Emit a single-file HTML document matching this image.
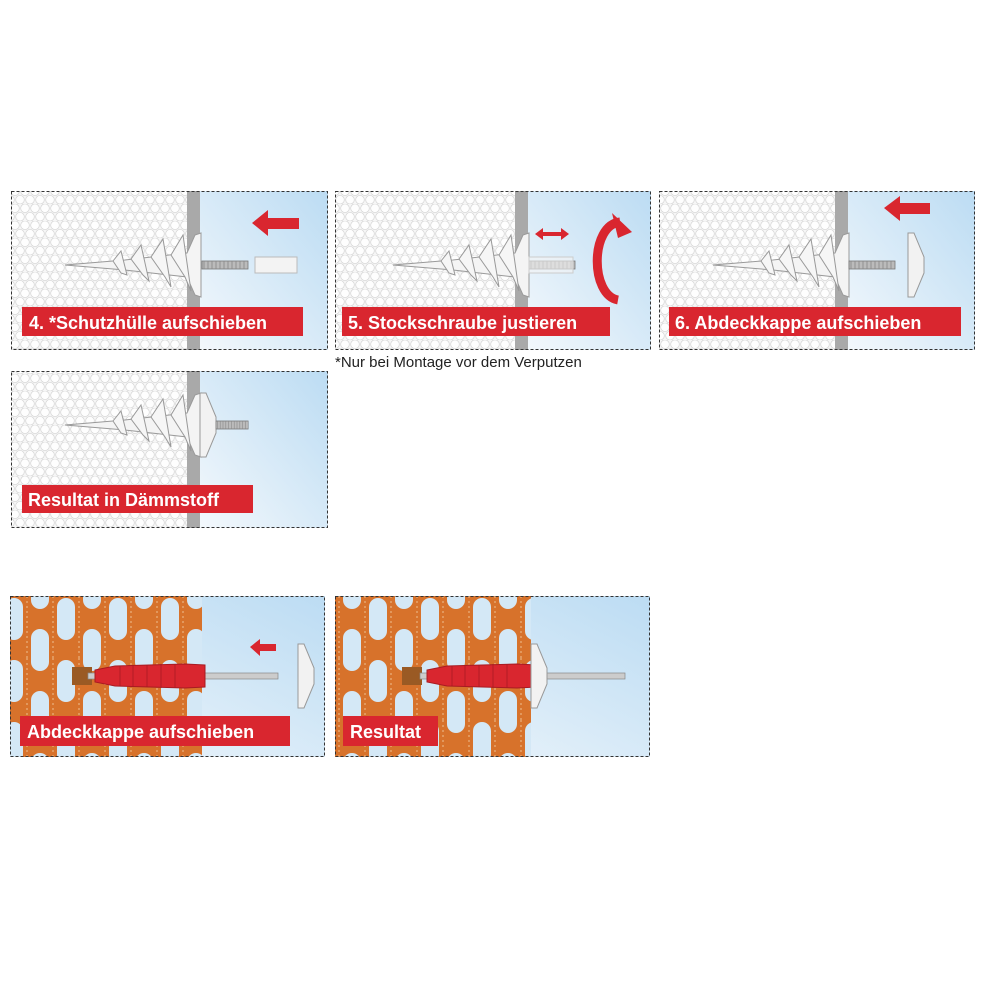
<!DOCTYPE html>
<html><head><meta charset="utf-8"><style>
html,body{margin:0;padding:0;background:#fff;}
svg{display:block}
text{font-family:"Liberation Sans",sans-serif;font-weight:bold;}
</style></head><body>
<svg width="1000" height="1000" viewBox="0 0 1000 1000" xmlns="http://www.w3.org/2000/svg">
<defs>
<pattern id="foam" width="10" height="17" patternUnits="userSpaceOnUse">
<rect width="10" height="17" fill="#f6f6f6"/>
<circle cx="5" cy="4.25" r="4.3" fill="#fefefe" stroke="#d4d4d4" stroke-width="0.7"/>
<circle cx="0" cy="12.75" r="4.3" fill="#fefefe" stroke="#d4d4d4" stroke-width="0.7"/>
<circle cx="10" cy="12.75" r="4.3" fill="#fefefe" stroke="#d4d4d4" stroke-width="0.7"/>
</pattern>
<linearGradient id="sky" x1="1" y1="0" x2="0" y2="1">
<stop offset="0" stop-color="#bcdcf3"/><stop offset="1" stop-color="#f3f8fc"/>
</linearGradient>
<pattern id="brick" x="0" y="596" width="52" height="62" patternUnits="userSpaceOnUse">
<rect width="52" height="62" fill="#d7722b"/>
<rect x="5" y="2" width="18" height="42" rx="9" fill="#d4e8f6"/>
<rect x="31" y="33" width="18" height="42" rx="9" fill="#d4e8f6"/>
<rect x="31" y="-29" width="18" height="42" rx="9" fill="#d4e8f6"/>
<line x1="27" y1="0" x2="27" y2="62" stroke="#f3d0a8" stroke-width="0.8" stroke-dasharray="2,3"/>
<line x1="1" y1="0" x2="1" y2="62" stroke="#f3d0a8" stroke-width="0.8" stroke-dasharray="2,3"/>
</pattern>
<g id="screwF">
<path d="M-130,0 L-70,-5 L-8,-12 L0,-30 L6,-32 L6,32 L0,30 L-8,12 L-70,5 Z" fill="#f4f4f4" stroke="#9a9a9a" stroke-width="1"/>
<g fill="#f6f6f6" stroke="#999" stroke-width="1">
<path d="M-82,-4 L-74,-14 L-68,10 L-74,8 Z"/>
<path d="M-64,-6 L-54,-20 L-46,16 L-52,10 Z"/>
<path d="M-44,-8 L-32,-26 L-24,22 L-30,12 Z"/>
<path d="M-24,-10 L-12,-30 L-4,26 L-10,12 Z"/>
</g>
</g>
<g id="rod">
<rect x="0" y="-4" width="46" height="8" fill="#bbb" stroke="#777" stroke-width="0.8"/>
<path d="M2,-4 v8 M6,-4 v8 M10,-4 v8 M14,-4 v8 M18,-4 v8 M22,-4 v8 M26,-4 v8 M30,-4 v8 M34,-4 v8 M38,-4 v8 M42,-4 v8" stroke="#888" stroke-width="0.8"/>
</g>
<g id="cap">
<path d="M0,-32 L6,-32 L16,-8 L16,8 L6,32 L0,32 Z" fill="#f2f2f2" stroke="#999"/>
</g>
<g id="dowel">
<path d="M0,-6 L20,-10 L90,-12 L110,-11 L110,11 L90,12 L20,10 L0,6 Z" fill="#d9262f" stroke="#a81b22"/>
<path d="M25,-10 v20 M38,-11 v22 M52,-11 v22 M66,-12 v24 M80,-12 v24" stroke="#a81b22" stroke-width="0.8"/>
</g>
</defs>

<!-- Panel 1 -->
<rect x="11" y="191" width="177" height="159" fill="url(#foam)"/>
<rect x="200" y="191" width="128" height="159" fill="url(#sky)"/>
<rect x="187" y="191" width="13" height="159" fill="#a9a9a9"/>
<use href="#screwF" x="195" y="265"/>
<g transform="translate(202,265)"><use href="#rod"/></g>
<rect x="255" y="257" width="42" height="16" fill="#f3f3f3" stroke="#bbb"/>
<path d="M252,223 L268,210 L268,218 L299,218 L299,229 L268,229 L268,236 Z" fill="#d9262f"/>
<rect x="22" y="307" width="281" height="29" fill="#d9262f"/>
<text x="29" y="329" font-size="18" fill="#fff">4. *Schutzhülle aufschieben</text>
<rect x="11.5" y="191.5" width="316" height="158" fill="none" stroke="#333" stroke-dasharray="3,2"/>

<!-- Panel 2 -->
<rect x="335" y="191" width="180" height="159" fill="url(#foam)"/>
<rect x="528" y="191" width="123" height="159" fill="url(#sky)"/>
<rect x="515" y="191" width="13" height="159" fill="#a9a9a9"/>
<use href="#screwF" x="523" y="265"/>
<g transform="translate(529,265)"><use href="#rod"/></g>
<rect x="529" y="257" width="44" height="16" fill="#f3f3f3" fill-opacity="0.6" stroke="#ccc"/>
<path d="M535,234 l8,-6 v4 h18 v-4 l8,6 l-8,6 v-4 h-18 v4 z" fill="#d9262f"/>
<path d="M620,222 C590,225 590,295 618,300" fill="none" stroke="#d9262f" stroke-width="9"/>
<path d="M612,213 L632,232 L618,238 Z" fill="#d9262f"/>
<rect x="342" y="307" width="268" height="29" fill="#d9262f"/>
<text x="348" y="329" font-size="18" fill="#fff">5. Stockschraube justieren</text>
<rect x="335.5" y="191.5" width="315" height="158" fill="none" stroke="#333" stroke-dasharray="3,2"/>
<text x="335" y="367" font-size="15" style="font-weight:normal" fill="#222">*Nur bei Montage vor dem Verputzen</text>

<!-- Panel 3 -->
<rect x="659" y="191" width="176" height="159" fill="url(#foam)"/>
<rect x="848" y="191" width="127" height="159" fill="url(#sky)"/>
<rect x="835" y="191" width="13" height="159" fill="#a9a9a9"/>
<use href="#screwF" x="843" y="265"/>
<g transform="translate(849,265)"><use href="#rod"/></g>
<use href="#cap" x="908" y="265"/>
<path d="M884,208 L900,196 L900,203 L930,203 L930,214 L900,214 L900,221 Z" fill="#d9262f"/>
<rect x="669" y="307" width="292" height="29" fill="#d9262f"/>
<text x="675" y="329" font-size="18" fill="#fff">6. Abdeckkappe aufschieben</text>
<rect x="659.5" y="191.5" width="315" height="158" fill="none" stroke="#333" stroke-dasharray="3,2"/>

<!-- Panel 4 -->
<rect x="11" y="371" width="177" height="157" fill="url(#foam)"/>
<rect x="200" y="371" width="128" height="157" fill="url(#sky)"/>
<rect x="187" y="371" width="13" height="157" fill="#a9a9a9"/>
<use href="#screwF" x="195" y="425"/>
<use href="#cap" x="200" y="425"/>
<g transform="translate(216,425)"><use href="#rod" transform="scale(0.7,1)"/></g>
<rect x="22" y="485" width="231" height="28" fill="#d9262f"/>
<text x="28" y="506" font-size="18" fill="#fff">Resultat in Dämmstoff</text>
<rect x="11.5" y="371.5" width="316" height="156" fill="none" stroke="#333" stroke-dasharray="3,2"/>

<!-- Panel 5 -->
<rect x="10" y="596" width="315" height="161" fill="url(#sky)"/>
<rect x="10" y="596" width="192" height="161" fill="url(#brick)"/>
<rect x="72" y="667" width="20" height="18" fill="#9a5a24"/>
<rect x="88" y="673" width="190" height="6" fill="#ccc" stroke="#888" stroke-width="0.7"/>
<use href="#dowel" x="95" y="676"/>
<use href="#cap" x="298" y="676"/>
<path d="M250,647 l10,-8 v5 h16 v7 h-16 v5 z" fill="#d9262f"/>
<rect x="20" y="716" width="270" height="30" fill="#d9262f"/>
<text x="27" y="738" font-size="18" fill="#fff">Abdeckkappe aufschieben</text>
<rect x="10.5" y="596.5" width="314" height="160" fill="none" stroke="#333" stroke-dasharray="3,2"/>

<!-- Panel 6 -->
<rect x="335" y="596" width="315" height="161" fill="url(#sky)"/>
<rect x="335" y="596" width="196" height="161" fill="url(#brick)"/>
<rect x="402" y="667" width="20" height="18" fill="#9a5a24"/>
<rect x="420" y="673" width="205" height="6" fill="#ccc" stroke="#888" stroke-width="0.7"/>
<use href="#dowel" x="427" y="676"/>
<use href="#cap" x="531" y="676"/>
<rect x="343" y="716" width="95" height="30" fill="#d9262f"/>
<text x="350" y="738" font-size="18" fill="#fff">Resultat</text>
<rect x="335.5" y="596.5" width="314" height="160" fill="none" stroke="#333" stroke-dasharray="3,2"/>
</svg>
</body></html>
